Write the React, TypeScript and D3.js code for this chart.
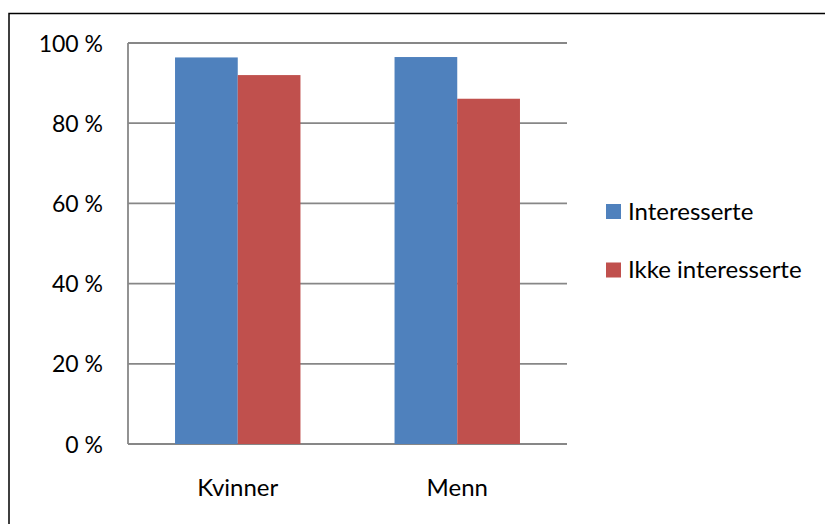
import React from 'react';
import * as d3 from 'd3';

const categories = ['Kvinner', 'Menn'];
const seriesNames = ['Interesserte', 'Ikke interesserte'];
const interesserte = [96.4, 96.5];
const ikkeInteresserte = [92.0, 86.1];
const yTicks = [0, 20, 40, 60, 80, 100];

const colors = ['#4F81BD', '#C0504D'];
const FONT = 'Lato, "Open Sans", sans-serif';

const App: React.FC = () => {
  const width = 825;
  const height = 524;
  const plot = { left: 128, right: 567, top: 43, bottom: 444 };

  const x = d3.scaleBand<string>()
    .domain(categories)
    .range([plot.left, plot.right])
    .padding(0);

  // gap width 150%: bars take 2 of 3.5 steps
  const xInner = d3.scaleBand<string>()
    .domain(seriesNames)
    .range([0, x.bandwidth()])
    .paddingInner(0)
    .paddingOuter(0.75);

  const y = d3.scaleLinear().domain([0, 100]).range([plot.bottom, plot.top]);

  const values = [interesserte, ikkeInteresserte];

  return (
    <svg
      width={width}
      height={height}
      style={{ position: 'absolute', left: 0, top: 0, background: '#fff' }}
      fontFamily={FONT}
    >
      {/* chart border, runs off the right and bottom edges */}
      <rect x={9} y={13.5} width={830} height={530} fill="none" stroke="#000" strokeWidth={1.5} />

      {/* gridlines + y labels */}
      {yTicks.map(t => (
        <g key={t}>
          <line x1={plot.left} x2={plot.right} y1={y(t)} y2={y(t)} stroke="#878787" strokeWidth={1.8} />
          <text x={103} y={y(t) + 8.5} textAnchor="end" fontSize={23} fill="#000">
            {`${t} %`}
          </text>
        </g>
      ))}
      <line x1={plot.left} x2={plot.left} y1={plot.top} y2={plot.bottom} stroke="#878787" strokeWidth={1.8} />

      {/* bars */}
      {categories.map((c, i) => (
        <g key={c}>
          {seriesNames.map((s, j) => (
            <rect
              key={s}
              x={(x(c) || 0) + (xInner(s) || 0)}
              y={y(values[j][i])}
              width={xInner.bandwidth()}
              height={plot.bottom - y(values[j][i])}
              fill={colors[j]}
            />
          ))}
          <text x={(x(c) || 0) + x.bandwidth() / 2} y={496} textAnchor="middle" fontSize={24} fill="#000">
            {c}
          </text>
        </g>
      ))}

      {/* legend */}
      {seriesNames.map((s, j) => (
        <g key={s} transform={`translate(606, ${204 + j * 58.5})`}>
          <rect x={0} y={0} width={15} height={15} fill={colors[j]} />
          <text x={22} y={15.5} fontSize={24} fill="#000">{s}</text>
        </g>
      ))}
    </svg>
  );
};

export default App;
